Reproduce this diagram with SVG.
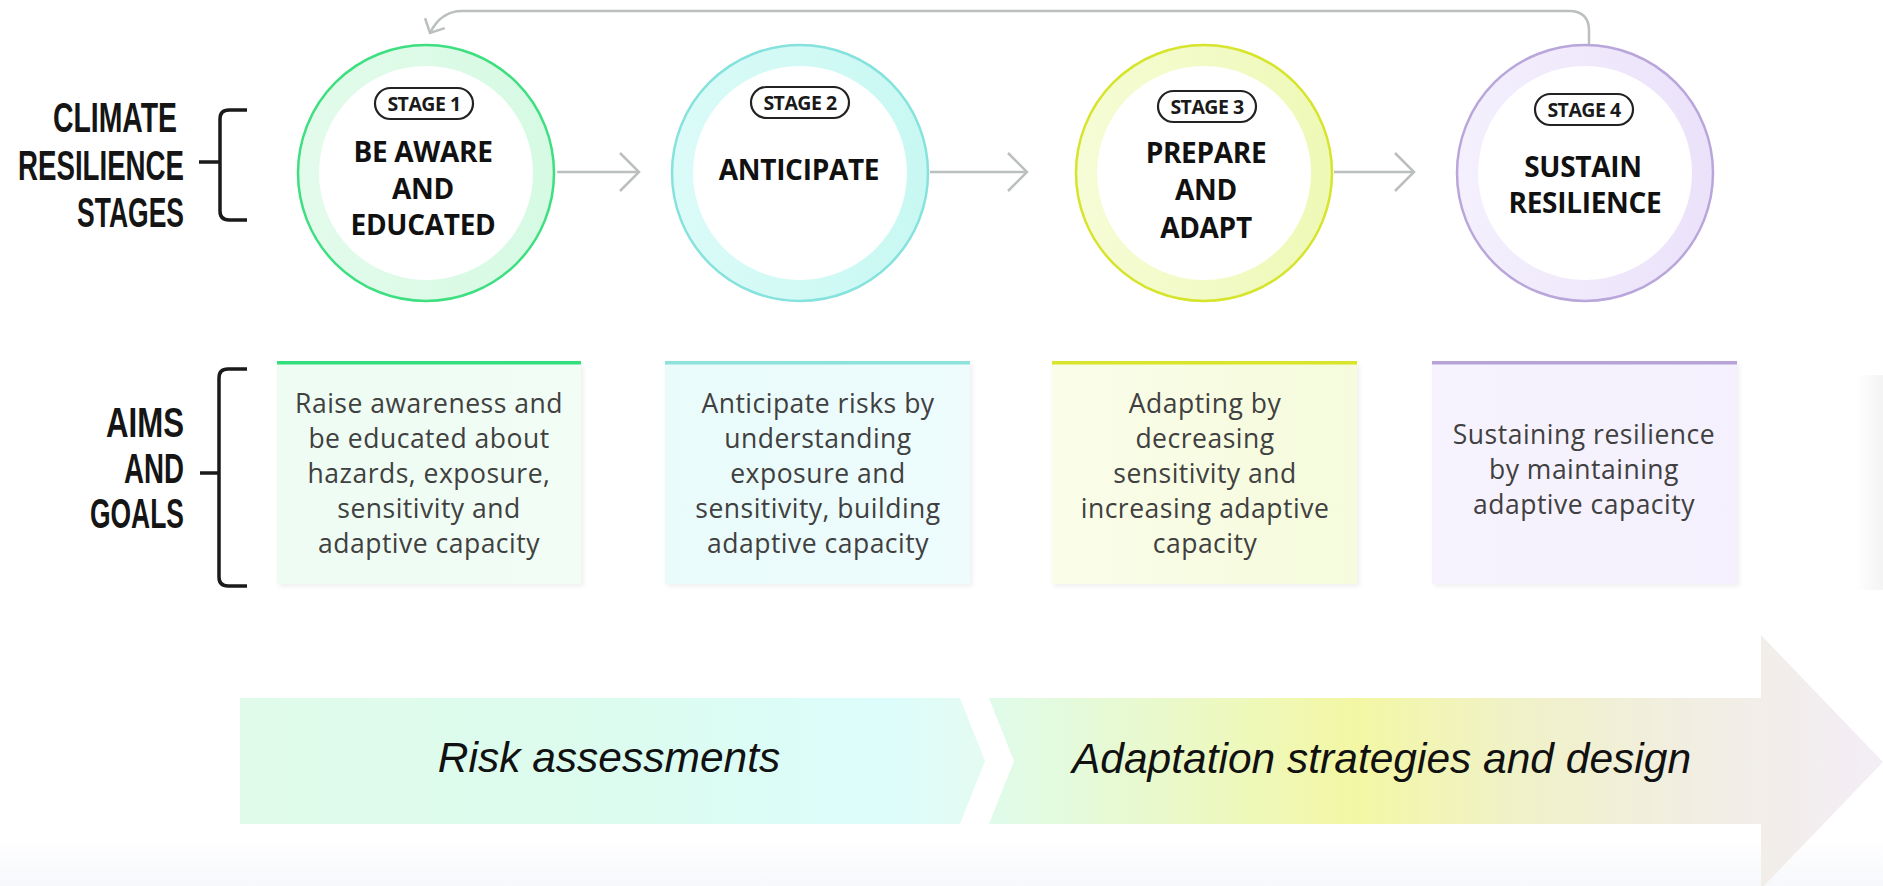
<svg xmlns="http://www.w3.org/2000/svg" width="1883" height="886" viewBox="0 0 1883 886">
<style>
.side{font-family:"Liberation Sans",Arial,sans-serif;font-weight:700;font-size:43px;fill:#151515}
.pilltxt{font-family:"Open Sans","Noto Sans",sans-serif;font-weight:700;font-size:19.5px;fill:#1a1a1a;text-anchor:middle;letter-spacing:-0.5px}
.title{font-family:"Open Sans","Noto Sans",sans-serif;font-weight:700;font-size:28px;fill:#111;text-anchor:middle;letter-spacing:-0.3px}
.aim{font-family:"Open Sans","Noto Sans",sans-serif;font-size:26.5px;fill:#404040;text-anchor:middle;letter-spacing:0.5px}
.band{font-family:"Liberation Sans",Arial,sans-serif;font-style:italic;font-size:42.5px;fill:#111}
.pill{fill:#fff;stroke:#222;stroke-width:2.2}
.conn{fill:none;stroke:#bbbfbf;stroke-width:2.5}
.brk{fill:none;stroke:#1a1a1a;stroke-width:3.5;stroke-linecap:butt}
</style>
<defs>
<marker id="chev" markerUnits="userSpaceOnUse" markerWidth="44" markerHeight="44" viewBox="-22 -22 44 44" refX="0" refY="0" orient="auto" overflow="visible">
<path d="M-19,-19 L0,0 L-19,19" fill="none" stroke="#bbbfbf" stroke-width="2.5"/>
</marker>
<marker id="chevS" markerUnits="userSpaceOnUse" markerWidth="40" markerHeight="40" viewBox="-20 -20 40 40" refX="0" refY="0" orient="auto" overflow="visible">
<path d="M-11,-11 L0,0 L-11,11" fill="none" stroke="#bbbfbf" stroke-width="2.5"/>
</marker>
<linearGradient id="r1" x1="0" x2="1" y1="0" y2="0"><stop offset="0" stop-color="#e3fbeb"/><stop offset="1" stop-color="#d6fae3"/></linearGradient>
<linearGradient id="r2" x1="0" x2="1" y1="0" y2="0"><stop offset="0" stop-color="#dbfbf8"/><stop offset="1" stop-color="#c8f8f2"/></linearGradient>
<linearGradient id="r3" x1="0" x2="1" y1="0" y2="0"><stop offset="0" stop-color="#f6fcd6"/><stop offset="1" stop-color="#eef9b6"/></linearGradient>
<linearGradient id="r4" x1="0" x2="1" y1="0" y2="0"><stop offset="0" stop-color="#f4f0fd"/><stop offset="1" stop-color="#ebe2fa"/></linearGradient>
<linearGradient id="b1" x1="0" x2="1" y1="0" y2="0"><stop offset="0" stop-color="#eefcf3"/><stop offset="1" stop-color="#f1fdf5"/></linearGradient>
<linearGradient id="b2" x1="0" x2="1" y1="0" y2="0"><stop offset="0" stop-color="#e9fbfa"/><stop offset="1" stop-color="#eefcfd"/></linearGradient>
<linearGradient id="b3" x1="0" x2="1" y1="0" y2="0"><stop offset="0" stop-color="#fafde9"/><stop offset="1" stop-color="#f5fbdc"/></linearGradient>
<linearGradient id="b4" x1="0" x2="1" y1="0" y2="0"><stop offset="0" stop-color="#f6f3fe"/><stop offset="1" stop-color="#f4f0fd"/></linearGradient>
<linearGradient id="g1" gradientUnits="userSpaceOnUse" x1="240" x2="985" y1="0" y2="0"><stop offset="0" stop-color="#e0fbe9"/><stop offset="0.5" stop-color="#dcfcef"/><stop offset="0.86" stop-color="#dcfdfb"/><stop offset="1" stop-color="#e4fbf1"/></linearGradient>
<linearGradient id="g2" gradientUnits="userSpaceOnUse" x1="989" x2="1883" y1="0" y2="0"><stop offset="0" stop-color="#dffbea"/><stop offset="0.19" stop-color="#e9f9cc"/><stop offset="0.41" stop-color="#f3f7a4"/><stop offset="0.58" stop-color="#f0f2c6"/><stop offset="0.77" stop-color="#f1eee0"/><stop offset="1" stop-color="#f3edf6"/></linearGradient>
<linearGradient id="bot" x1="0" x2="0" y1="0" y2="1"><stop offset="0" stop-color="#ffffff"/><stop offset="1" stop-color="#f7f8fc"/></linearGradient>
<linearGradient id="edge" x1="0" x2="1" y1="0" y2="0"><stop offset="0" stop-color="#ffffff"/><stop offset="1" stop-color="#f1f1f1"/></linearGradient>
<filter id="sh" x="-5%" y="-5%" width="112%" height="112%"><feDropShadow dx="2" dy="2" stdDeviation="2.5" flood-color="#000" flood-opacity="0.07"/></filter>
</defs>
<rect width="1883" height="886" fill="#fff"/>
<rect x="0" y="836" width="1883" height="50" fill="url(#bot)"/>
<rect x="1856" y="375" width="27" height="215" fill="url(#edge)" opacity="0.8"/>

<g id="label-stages">
<text class="side" x="53" y="132" textLength="124" lengthAdjust="spacingAndGlyphs">CLIMATE</text>
<text class="side" x="18" y="180" textLength="166" lengthAdjust="spacingAndGlyphs">RESILIENCE</text>
<text class="side" x="77" y="227" textLength="107" lengthAdjust="spacingAndGlyphs">STAGES</text>
<path class="brk" d="M247,110 H229 Q220,110 220,119 V211 Q220,220 229,220 H247 M199,162 H220"/>
</g>
<g id="label-aims">
<text class="side" x="106" y="437" textLength="78" lengthAdjust="spacingAndGlyphs">AIMS</text>
<text class="side" x="124" y="483" textLength="60" lengthAdjust="spacingAndGlyphs">AND</text>
<text class="side" x="90" y="528" textLength="94" lengthAdjust="spacingAndGlyphs">GOALS</text>
<path class="brk" d="M247,369 H228 Q219,369 219,378 V577 Q219,586 228,586 H247 M200,473 H219"/>
</g>

<g id="connectors">
<path class="conn" d="M557,172 H639" marker-end="url(#chev)"/>
<path class="conn" d="M930,172 H1027" marker-end="url(#chev)"/>
<path class="conn" d="M1334,172 H1414" marker-end="url(#chev)"/>
<path class="conn" d="M1589,44 V31 Q1589,11 1569,11 H462 Q441,11 430,33" marker-end="url(#chevS)"/>
</g>

<g id="stage1">
<circle cx="426" cy="173" r="128" fill="url(#r1)" stroke="#3ddf80" stroke-width="2.5"/>
<circle cx="426" cy="173" r="107" fill="#fff"/>
<rect class="pill" x="375" y="88" width="98" height="31" rx="15.5"/>
<text class="pilltxt" x="424" y="110.5">STAGE 1</text>
<text class="title" x="423" y="162">BE AWARE</text>
<text class="title" x="423" y="199">AND</text>
<text class="title" x="423" y="235">EDUCATED</text>
</g>
<g id="stage2">
<circle cx="800" cy="173" r="128" fill="url(#r2)" stroke="#86e2dc" stroke-width="2.5"/>
<circle cx="800" cy="173" r="107" fill="#fff"/>
<rect class="pill" x="751" y="87" width="98" height="31" rx="15.5"/>
<text class="pilltxt" x="800" y="109.5">STAGE 2</text>
<text class="title" x="799" y="180">ANTICIPATE</text>
</g>
<g id="stage3">
<circle cx="1204" cy="173" r="128" fill="url(#r3)" stroke="#d6e42c" stroke-width="2.5"/>
<circle cx="1204" cy="173" r="107" fill="#fff"/>
<rect class="pill" x="1158" y="91" width="98" height="31" rx="15.5"/>
<text class="pilltxt" x="1207" y="113.5">STAGE 3</text>
<text class="title" x="1206" y="163">PREPARE</text>
<text class="title" x="1206" y="200">AND</text>
<text class="title" x="1206" y="238">ADAPT</text>
</g>
<g id="stage4">
<circle cx="1585" cy="173" r="128" fill="url(#r4)" stroke="#b9a6da" stroke-width="2.5"/>
<circle cx="1585" cy="173" r="107" fill="#fff"/>
<rect class="pill" x="1535" y="94" width="98" height="31" rx="15.5"/>
<text class="pilltxt" x="1584" y="116.5">STAGE 4</text>
<text class="title" x="1583" y="177">SUSTAIN</text>
<text class="title" x="1585" y="213">RESILIENCE</text>
</g>

<g id="aim1">
<rect x="277" y="362" width="304" height="222" fill="url(#b1)" filter="url(#sh)"/>
<rect x="277" y="361" width="304" height="3.5" fill="#33df7c"/>
<text class="aim" x="429" y="413">Raise awareness and</text>
<text class="aim" x="429" y="448">be educated about</text>
<text class="aim" x="429" y="483">hazards, exposure,</text>
<text class="aim" x="429" y="518">sensitivity and</text>
<text class="aim" x="429" y="553">adaptive capacity</text>
</g>
<g id="aim2">
<rect x="665" y="362" width="305" height="222" fill="url(#b2)" filter="url(#sh)"/>
<rect x="665" y="361" width="305" height="3.5" fill="#8ee2dc"/>
<text class="aim" x="818" y="413">Anticipate risks by</text>
<text class="aim" x="818" y="448">understanding</text>
<text class="aim" x="818" y="483">exposure and</text>
<text class="aim" x="818" y="518">sensitivity, building</text>
<text class="aim" x="818" y="553">adaptive capacity</text>
</g>
<g id="aim3">
<rect x="1052" y="362" width="305" height="222" fill="url(#b3)" filter="url(#sh)"/>
<rect x="1052" y="361" width="305" height="3.5" fill="#d8e52a"/>
<text class="aim" x="1205" y="413">Adapting by</text>
<text class="aim" x="1205" y="448">decreasing</text>
<text class="aim" x="1205" y="483">sensitivity and</text>
<text class="aim" x="1205" y="518">increasing adaptive</text>
<text class="aim" x="1205" y="553">capacity</text>
</g>
<g id="aim4">
<rect x="1432" y="362" width="305" height="222" fill="url(#b4)" filter="url(#sh)"/>
<rect x="1432" y="361" width="305" height="3.5" fill="#b8a3d8"/>
<text class="aim" x="1584" y="444">Sustaining resilience</text>
<text class="aim" x="1584" y="479">by maintaining</text>
<text class="aim" x="1584" y="514">adaptive capacity</text>
</g>

<g id="phase-risk">
<polygon points="240,698 960,698 985,761 960,824 240,824" fill="url(#g1)"/>
<text class="band" x="609" y="772" text-anchor="middle">Risk assessments</text>
</g>
<g id="phase-adapt">
<polygon points="989,698 1761,698 1761,635 1883,762 1761,889 1761,824 989,824 1014,761" fill="url(#g2)"/>
<text class="band" x="1072" y="773">Adaptation strategies and design</text>
</g>
</svg>
